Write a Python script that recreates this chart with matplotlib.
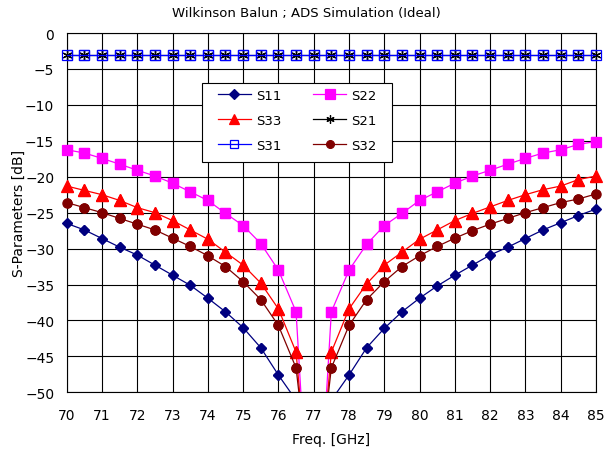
import numpy as np
import matplotlib
matplotlib.use("Agg")
import matplotlib.pyplot as plt
from matplotlib.patches import Rectangle

freq = [70.0, 70.5, 71.0, 71.5, 72.0, 72.5, 73.0, 73.5, 74.0, 74.5, 75.0, 75.5, 76.0, 76.5,
        77.0, 77.5, 78.0, 78.5, 79.0, 79.5, 80.0, 80.5, 81.0, 81.5, 82.0, 82.5, 83.0, 83.5,
        84.0, 84.5, 85.0]

s11 = [-26.5, -27.4, -28.6, -29.8, -30.9, -32.3, -33.7, -35.1, -36.9, -38.8, -41.0, -43.8, -47.6, -51.1,
       -65.0, -51.1, -47.6, -43.8, -41.1, -38.8, -36.9, -35.2, -33.7, -32.3, -30.9, -29.8, -28.6, -27.4,
       -26.4, -25.4, -24.5]
s22 = [-16.25, -16.7, -17.45, -18.25, -19.1, -19.9, -20.9, -22.1, -23.3, -25.1, -26.8, -29.3, -33.0, -38.8,
       -80.0, -38.8, -33.0, -29.4, -26.8, -25.1, -23.3, -22.1, -20.9, -19.9, -19.1, -18.25, -17.45, -16.7,
       -16.25, -15.5, -15.1]
s33 = [-21.3, -21.9, -22.5, -23.3, -24.3, -25.0, -26.1, -27.4, -28.7, -30.5, -32.3, -34.8, -38.4, -44.4,
       -72.0, -44.4, -38.4, -34.9, -32.3, -30.5, -28.7, -27.4, -26.1, -25.1, -24.2, -23.3, -22.5, -21.8,
       -21.3, -20.4, -19.9]
s21 = [-3.0] * 31
s31 = [-3.0] * 31
s32 = [-23.6, -24.3, -25.0, -25.8, -26.6, -27.4, -28.55, -29.7, -31.0, -32.5, -34.6, -37.1, -40.7, -46.6,
       -68.0, -46.6, -40.7, -37.1, -34.6, -32.5, -31.0, -29.7, -28.55, -27.5, -26.6, -25.8, -25.0, -24.3,
       -23.6, -23.1, -22.4]

series_names = ["S11", "S22", "S33", "S21", "S31", "S32"]
xticks = list(range(70, 86))
yticks = list(range(-50, 1, 5))

plt.rcParams['font.family'] = ['DejaVu Sans']

fig = plt.figure(figsize=(6.10, 4.52), dpi=100)
ax = fig.add_axes([66.7 / 610, 1 - 393.3 / 452, (596 - 66.7) / 610, (393.3 - 34) / 452])

styles = {
    "S11": dict(color="#000080", marker="D", ms=5.4, mfc="#000080", mec="#000080"),
    "S22": dict(color="#FF00FF", marker="s", ms=7.8, mfc="#FF00FF", mec="#FF00FF"),
    "S33": dict(color="#FF0000", marker="^", ms=8.5, mfc="#FF0000", mec="#FF0000"),
    "S21": dict(color="#000000", marker=(6, 2, 0), ms=7, mfc="none", mec="#000000"),
    "S31": dict(color="#0000FF", marker="s", ms=7.6, mfc="none", mec="#0000FF"),
    "S32": dict(color="#800000", marker="o", ms=6.6, mfc="#800000", mec="#800000"),
}
data = {"S11": s11, "S22": s22, "S33": s33, "S21": s21, "S31": s31, "S32": s32}

x = np.array(freq)
handles = {}
for name in series_names:
    y = np.array(data[name])
    st = styles[name]
    ln, = ax.plot(x, y, color=st["color"], lw=0.9, marker=st["marker"], ms=st["ms"],
                  mfc=st["mfc"], mec=st["mec"], mew=0.9, label=name, zorder=3)
    handles[name] = ln
    ym = np.where(y >= -50, y, np.nan)
    ax.plot(x, ym, ls="none", marker=st["marker"], ms=st["ms"], mfc=st["mfc"], mec=st["mec"],
            mew=0.9, clip_on=False, zorder=3)

ax.set_xlim(70, 85)
ax.set_ylim(-50, 0)
ax.set_xticks(xticks)
ax.set_yticks(yticks)
ax.grid(True, color="black", lw=0.8)
ax.set_axisbelow(True)
for s in ax.spines.values():
    s.set_color("black")
    s.set_linewidth(0.8)
ax.tick_params(axis="both", length=0, labelsize=10)
ax.tick_params(axis="x", pad=11)
ax.tick_params(axis="y", pad=9)


def axx(px):
    return (px - 66.7) / (596 - 66.7)


def axy(py):
    return (393.3 - py) / (393.3 - 34)


rect = Rectangle((axx(201.7), axy(163.3)), axx(391.7) - axx(201.7), axy(84) - axy(163.3),
                 transform=ax.transAxes, facecolor="white", edgecolor="black", lw=0.8, zorder=5)
ax.add_patch(rect)

order = ["S11", "S33", "S31", "S22", "S21", "S32"]
leg = ax.legend([handles[n] for n in order], order, ncol=2, frameon=False, mode="expand",
                loc="upper left",
                bbox_to_anchor=(axx(218), axy(157), axx(377) - axx(218), axy(90) - axy(157)),
                borderaxespad=0, borderpad=0, handlelength=2.5, handletextpad=0.4,
                labelspacing=0.9, fontsize=9.5, numpoints=1, markerscale=0.85)
leg.set_zorder(6)

fig.text(306.5 / 610, 1 - 14 / 452, "Wilkinson Balun ; ADS Simulation (Ideal)",
         ha="center", va="center", fontsize=9.5)
fig.text(0.5 * (66.7 + 596) / 610, 1 - 440 / 452, "Freq. [GHz]", ha="center", va="center", fontsize=10)
fig.text(19 / 610, 1 - 213.7 / 452, "S-Parameters [dB]", ha="center", va="center",
         rotation=90, fontsize=10)

fig.savefig("out.png", dpi=100)
